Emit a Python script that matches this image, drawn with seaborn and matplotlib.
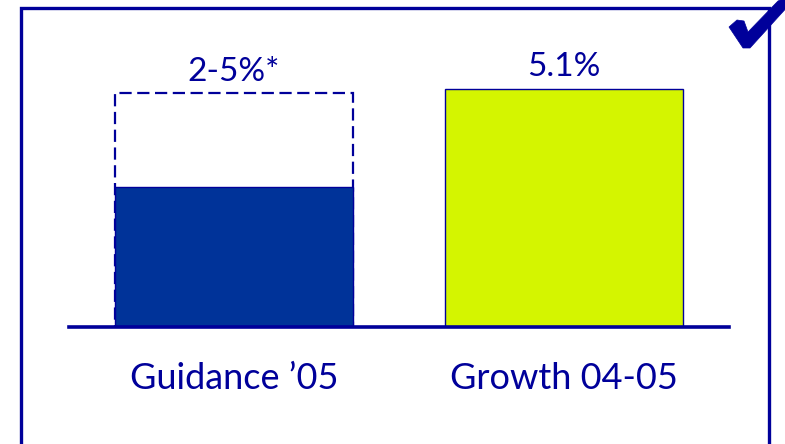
import matplotlib
matplotlib.use("Agg")
import matplotlib.pyplot as plt
import seaborn as sns
from matplotlib.patches import Rectangle, Polygon

# ---- data ----
categories = ["Guidance \u201905", "Growth 04-05"]
guidance_solid = [3.0]          # solid part of guidance bar
guidance_range_top = [5.0]      # dashed outline top (upper end of 2-5%)
growth_value = [5.1]
value_labels = ["2-5%*", "5.1%"]

NAVY = "#00009a"
BLUE = "#003399"
LIME = "#d4f500"

sns.set_theme(style="white")
plt.rcParams["font.family"] = ["Lato", "DejaVu Sans"]

W, H = 785, 444
fig = plt.figure(figsize=(W / 100, H / 100), dpi=100)
fig.patch.set_facecolor("white")

# axes: x from px 69 to 729, y baseline at px 327 to top of figure
ax = fig.add_axes([69 / W, (H - 327) / H, (729 - 69) / W, 327 / H])
ax.set_facecolor("none")

# dashed outline for the guidance range
sns.barplot(x=[categories[0]], y=guidance_range_top, order=categories,
            color="white", saturation=1, width=0.72,
            edgecolor=NAVY, linewidth=1.6, linestyle=(0, (5.5, 2.5)), ax=ax)

# solid bars
solid_vals = [guidance_solid[0], growth_value[0]]
sns.barplot(x=categories, y=solid_vals, order=categories, hue=categories,
            palette=[BLUE, LIME], saturation=1, width=0.72, legend=False,
            edgecolor=NAVY, linewidth=1.0, ax=ax)

ax.set_xlim(-0.5, 1.5)
ax.set_ylim(0, 7.0)
ax.set_xlabel("")
ax.set_ylabel("")
ax.set_yticks([])
ax.tick_params(axis="x", length=0, pad=25, labelsize=26, labelcolor=NAVY)
for s in ["top", "right", "left"]:
    ax.spines[s].set_visible(False)
ax.spines["bottom"].set_color(NAVY)
ax.spines["bottom"].set_linewidth(2.6)
ax.spines["bottom"].set_zorder(5)

# value labels
tops = [guidance_range_top[0], growth_value[0]]
for i, (t, lab) in enumerate(zip(tops, value_labels)):
    ax.annotate(lab, xy=(i, t), xytext=(0, 9), textcoords="offset points",
                ha="center", va="baseline", fontsize=24, color=NAVY)

# frame border
fig.patches.append(Rectangle((21 / W, -0.05), (769 - 21) / W, (H - 8) / H + 0.05,
                             transform=fig.transFigure, fill=False,
                             edgecolor=NAVY, linewidth=2.4, zorder=10))

# check mark icon (shape), in pixel coords from top-left
check_px = [(729, 27), (737, 20), (744, 21), (748, 32), (778, 1), (790, -4),
            (790, 4), (750, 48), (743, 48)]
fig.patches.append(Polygon([(x / W, 1 - y / H) for x, y in check_px],
                           closed=True, transform=fig.transFigure,
                           facecolor=NAVY, edgecolor=NAVY, linewidth=0.5,
                           zorder=11))

fig.savefig("out.png", dpi=100)
